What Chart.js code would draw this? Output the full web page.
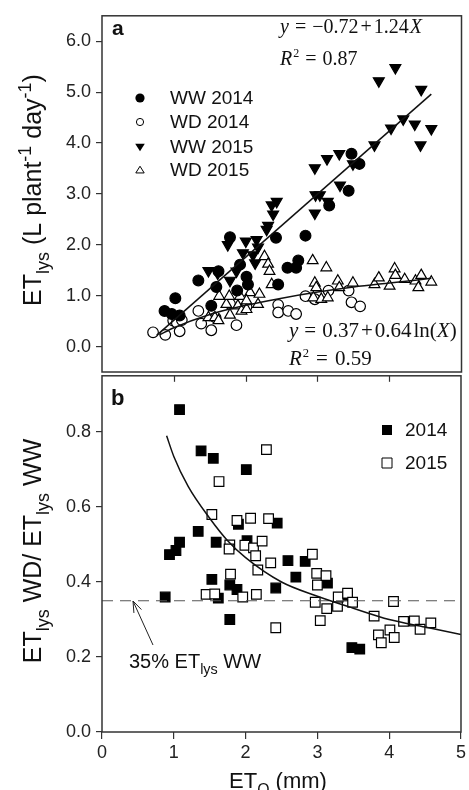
<!DOCTYPE html>
<html>
<head>
<meta charset="utf-8">
<script src="https://cdn.jsdelivr.net/npm/chart.js@4/dist/chart.umd.min.js"></script>
<style>
  html, body { margin: 0; padding: 0; background: #fff; }
  #wrap { position: relative; width: 469px; height: 790px; overflow: hidden; }
  canvas { position: absolute; left: 0; }
  #ca { top: 0; }
  #cb { top: 360px; }
</style>
</head>
<body>
<div id="wrap">
  <canvas id="ca" width="469" height="390"></canvas>
  <canvas id="cb" width="469" height="430"></canvas>
</div>
<script>
// ---- data ----
// panel a: ETlys vs ETo
const ww14X = [0.87,0.97,1.02,1.08,1.34,1.52,1.59,1.62,1.78,1.88,1.92,2.01,2.03,2.42,2.45,2.58,2.70,2.73,2.83,3.16,3.43,3.47,3.58];
const ww14Y = [0.70,0.64,0.95,0.61,1.30,0.80,1.17,1.48,2.15,1.10,1.61,1.37,1.22,2.14,1.22,1.55,1.55,1.69,2.18,2.77,3.06,3.79,3.59];
const wd14X = [0.71,0.88,0.99,1.04,1.08,1.11,1.34,1.38,1.52,1.58,1.78,1.87,2.01,2.45,2.45,2.59,2.70,2.83,2.96,3.15,3.43,3.47,3.59];
const wd14Y = [0.28,0.23,0.51,0.47,0.30,0.52,0.70,0.45,0.32,0.57,0.84,0.42,0.78,0.82,0.67,0.70,0.64,0.99,0.93,1.10,1.10,0.87,0.79];
const ww15X = [1.48,1.61,1.75,1.78,1.87,1.96,2.00,2.10,2.13,2.15,2.17,2.29,2.31,2.38,2.36,2.43,2.96,2.97,3.03,3.14,2.96,3.13,3.30,3.31,3.49,3.79,3.85,4.02,4.08,4.19,4.35,4.43,4.44,4.58];
const ww15Y = [1.49,1.44,2.00,1.30,1.48,1.84,2.07,1.80,1.64,2.10,1.95,2.30,2.38,2.60,2.78,2.85,2.62,2.98,2.98,2.85,3.51,3.69,3.79,3.17,3.59,3.96,5.22,4.29,5.48,4.47,4.37,3.96,5.05,4.28];
const wd15X = [1.48,1.57,1.62,1.63,1.73,1.77,1.78,1.89,1.92,1.94,2.01,2.06,2.01,2.17,2.19,2.26,2.31,2.33,2.36,2.93,3.12,2.96,2.98,2.94,3.05,3.14,3.28,3.30,3.49,3.79,3.85,4.00,4.07,4.08,4.21,4.36,4.44,4.40,4.58];
const wd15Y = [0.57,0.57,0.51,0.99,0.83,0.99,0.62,0.80,0.99,0.70,0.73,1.06,0.90,0.83,1.03,1.77,1.62,1.48,1.22,1.69,1.55,1.25,1.16,0.96,0.93,0.96,1.29,1.16,1.25,1.22,1.35,1.19,1.53,1.40,1.32,1.29,1.40,1.16,1.27];
// fitted lines, points
const linX = [0.76, 4.58];
const linY = [0.22, 4.96];
const logX = [0.8, 1.0, 1.5, 2.0, 2.5, 3.0, 3.5, 4.0, 4.58];
const logY = [0.23, 0.37, 0.63, 0.81, 0.95, 1.07, 1.17, 1.25, 1.34];

// panel b: ratio WD/WW
const r14X = [0.88,0.94,1.03,1.08,1.08,1.34,1.38,1.53,1.55,1.59,1.62,1.78,1.78,1.88,1.90,2.01,2.02,2.42,2.44,2.59,2.70,2.83,3.14,3.42,3.48,3.59];
const r14Y = [0.36,0.473,0.484,0.506,0.86,0.535,0.75,0.407,0.73,0.506,0.357,0.392,0.30,0.38,0.554,0.70,0.51,0.384,0.557,0.457,0.413,0.455,0.397,0.363,0.225,0.221];
const r15X = [1.45,1.57,1.53,1.63,1.79,1.78,1.77,1.88,1.96,1.99,2.07,2.11,2.14,2.15,2.17,2.23,2.29,2.32,2.35,2.42,2.93,2.97,2.99,3.00,3.04,3.12,3.13,3.28,3.29,3.42,3.49,3.79,3.85,3.89,4.01,4.06,4.07,4.20,4.35,4.43,4.58];
const r15Y = [0.367,0.368,0.58,0.668,0.421,0.499,0.488,0.564,0.36,0.498,0.57,0.491,0.47,0.367,0.432,0.509,0.753,0.569,0.451,0.278,0.474,0.346,0.423,0.392,0.297,0.417,0.329,0.335,0.36,0.37,0.346,0.309,0.259,0.238,0.272,0.348,0.252,0.295,0.296,0.274,0.291];
const powX = [0.9, 1.0, 1.2, 1.5, 1.75, 2.0, 2.5, 3.0, 3.5, 4.0, 4.5, 5.0];
const powY = [0.79, 0.735, 0.655, 0.57, 0.51, 0.465, 0.40, 0.362, 0.33, 0.30, 0.28, 0.26];
const refX = [0, 5];
const refY = [0.35, 0.35];

// tick labels
const aTicks = [0, 1, 2, 3, 4, 5, 6];
const bTicks = [0, 0.2, 0.4, 0.6, 0.8];
const xTicks = [0, 1, 2, 3, 4, 5];

// ---- drawing ----
const SANS = "'Liberation Sans', Arial, Helvetica, sans-serif";
const SERIF = "'Liberation Serif', 'Times New Roman', serif";
const OFFB = 360; // top of the second canvas on the page

Chart.defaults.font.family = SANS;
Chart.defaults.font.size = 18;
Chart.defaults.color = '#222';

const pts = (xs, ys) => xs.map((x, i) => ({ x, y: ys[i] }));

// draws a run of text pieces: [text, style, gapBefore]
function rich(ctx, x, y, parts, size, family, measureOnly) {
  let cx = x;
  parts.forEach(([t, s, gap]) => {
    let sz = size, dy = 0, st = '';
    if (s === 'sub') { sz = size * 0.72; dy = size * 0.3; }
    if (s === 'sup') { sz = size * 0.72; dy = -size * 0.42; }
    if (s === 'sup2') { sz = size * 0.6; dy = -size * 0.4; }
    if (s === 'i') st = 'italic ';
    if (s === 'b') st = 'bold ';
    ctx.font = st + sz + 'px ' + family;
    cx += gap || 0;
    if (!measureOnly) ctx.fillText(t, cx, y + dy);
    cx += ctx.measureText(t).width;
  });
  return cx - x;
}

function richCentered(ctx, cx, y, parts, size, family) {
  const w = rich(ctx, 0, 0, parts, size, family, true);
  rich(ctx, cx - w / 2, y, parts, size, family);
}

function yTitle(ctx, x, yc, parts, size) {
  ctx.save();
  ctx.translate(x, yc);
  ctx.rotate(-Math.PI / 2);
  richCentered(ctx, 0, 0, parts, size, SANS);
  ctx.restore();
}

function marker(ctx, kind, x, y, r) {
  ctx.save();
  ctx.lineWidth = 1;
  ctx.strokeStyle = '#000';
  ctx.fillStyle = '#000';
  ctx.beginPath();
  if (kind === 'dot' || kind === 'ring') {
    ctx.arc(x, y, r, 0, Math.PI * 2);
  } else if (kind === 'down') {
    ctx.moveTo(x - r, y - r * 0.7); ctx.lineTo(x + r, y - r * 0.7); ctx.lineTo(x, y + r * 0.9); ctx.closePath();
  } else if (kind === 'up') {
    ctx.moveTo(x - r, y + r * 0.7); ctx.lineTo(x + r, y + r * 0.7); ctx.lineTo(x, y - r * 0.9); ctx.closePath();
  } else {
    ctx.rect(x - r, y - r, 2 * r, 2 * r);
  }
  if (kind === 'dot' || kind === 'down' || kind === 'sq') {
    ctx.fill();
  } else {
    ctx.fillStyle = '#fff';
    ctx.fill();
    ctx.stroke();
  }
  ctx.restore();
}

function frame(chart) {
  const { ctx, chartArea: a } = chart;
  ctx.save();
  ctx.strokeStyle = '#333';
  ctx.lineWidth = 1.5;
  ctx.strokeRect(a.left, a.top, a.right - a.left, a.bottom - a.top);
  ctx.restore();
}

function yAxis(min, max, ticks, digits) {
  return {
    min, max,
    afterBuildTicks: s => { s.ticks = ticks.map(v => ({ value: v })); },
    afterFit: s => { s.width = 102; },
    ticks: { padding: 5, color: '#222', callback: v => Number(v).toFixed(digits) },
    grid: { drawOnChartArea: false, drawTicks: true, tickLength: 6, color: '#333', lineWidth: 1.2 },
    border: { display: false },
  };
}

const dotSet = (label, data, style, fill, r, rot) => ({
  label, data,
  pointStyle: style,
  pointRotation: rot || 0,
  pointRadius: r,
  pointHoverRadius: r,
  backgroundColor: fill,
  borderColor: '#000',
  borderWidth: 1.2,
});

const lineSet = (label, data, extra) => Object.assign({
  label, data,
  showLine: true,
  pointRadius: 0,
  borderColor: '#111',
  borderWidth: 1.5,
  fill: false,
}, extra || {});

// ---- panel a ----
const annotA = {
  id: 'annotA',
  afterDraw(chart) {
    const ctx = chart.ctx;
    frame(chart);
    ctx.save();
    ctx.fillStyle = '#111';
    ctx.textBaseline = 'alphabetic';
    rich(ctx, 112, 35, [['a', 'b']], 21, SANS);
    rich(ctx, 280, 33, [['y', 'i'], ['=', '', 6], ['\u22120.72', '', 6], ['+', '', 2], ['1.24', '', 2], ['X', 'i', 1]], 20, SERIF);
    rich(ctx, 280, 65, [['R', 'i'], ['2', 'sup2', 1], ['=', '', 6], ['0.87', '', 6]], 20, SERIF);
    rich(ctx, 289, 337, [['y', 'i'], ['=', '', 6], ['0.37', '', 6], ['+', '', 2], ['0.64', '', 2], ['ln(', '', 2], ['X', 'i'], [')', '']], 21, SERIF);
    rich(ctx, 289, 365, [['R', 'i'], ['2', 'sup2', 1], ['=', '', 7], ['0.59', '', 7]], 21, SERIF);

    const rows = [['dot', 'WW 2014', 4.6], ['ring', 'WD 2014', 3.6], ['down', 'WW 2015', 4.8], ['up', 'WD 2015', 4.2]];
    const rowY = [98, 122, 147, 170];
    rows.forEach(([k, t, r], i) => {
      marker(ctx, k, 140, rowY[i], r);
      ctx.font = '19px ' + SANS;
      ctx.textBaseline = 'middle';
      ctx.fillStyle = '#111';
      ctx.fillText(t, 170, rowY[i] + 1);
    });
    ctx.textBaseline = 'alphabetic';
    yTitle(ctx, 41, 190, [['ET', ''], ['lys', 'sub'], [' (L plant', ''], ['-1', 'sup'], [' day', ''], ['-1', 'sup'], [')', '']], 25);
    ctx.restore();
  }
};

new Chart(document.getElementById('ca'), {
  type: 'scatter',
  data: {
    datasets: [
      lineSet('fit WW', pts(linX, linY)),
      lineSet('fit WD', pts(logX, logY), { cubicInterpolationMode: 'monotone' }),
      dotSet('WW 2015', pts(ww15X, ww15Y), 'triangle', '#000', 6.3, 180),
      dotSet('WW 2014', pts(ww14X, ww14Y), 'circle', '#000', 5.4),
      dotSet('WD 2015', pts(wd15X, wd15Y), 'triangle', '#fff', 6.2),
      dotSet('WD 2014', pts(wd14X, wd14Y), 'circle', '#fff', 5.3),
    ]
  },
  options: {
    responsive: false,
    animation: false,
    layout: { padding: { top: 13, right: 7, bottom: 18, left: 0 } },
    plugins: { legend: { display: false }, tooltip: { enabled: false } },
    scales: {
      x: { type: 'linear', min: 0, max: 5, display: false },
      y: yAxis(-0.5, 6.5, aTicks, 1),
    }
  },
  plugins: [annotA]
});

// ---- panel b ----
const annotB = {
  id: 'annotB',
  afterDraw(chart) {
    const ctx = chart.ctx;
    const a = chart.chartArea;
    const xs = chart.scales.x;
    frame(chart);
    ctx.save();
    // inward ticks along the shared top edge
    ctx.strokeStyle = '#333';
    ctx.lineWidth = 1.2;
    xTicks.slice(1, -1).forEach(v => {
      const px = Math.round(xs.getPixelForValue(v)) + 0.5;
      ctx.beginPath(); ctx.moveTo(px, a.top); ctx.lineTo(px, a.top + 6); ctx.stroke();
    });
    ctx.fillStyle = '#111';
    ctx.textBaseline = 'alphabetic';
    rich(ctx, 111, 405 - OFFB, [['b', 'b']], 22, SANS);

    marker(ctx, 'sq', 387, 430 - OFFB, 5);
    marker(ctx, 'sqo', 387, 463 - OFFB, 5);
    ctx.font = '19px ' + SANS;
    ctx.textBaseline = 'middle';
    ctx.fillStyle = '#111';
    ctx.fillText('2014', 405, 431 - OFFB);
    ctx.fillText('2015', 405, 464 - OFFB);
    ctx.textBaseline = 'alphabetic';

    // arrow to the 35 % line
    const tx = 133, ty = 601 - OFFB, fx = 153, fy = 645 - OFFB;
    ctx.strokeStyle = '#222';
    ctx.lineWidth = 1;
    ctx.beginPath(); ctx.moveTo(fx, fy); ctx.lineTo(tx, ty); ctx.stroke();
    const ang = Math.atan2(fy - ty, fx - tx);
    [0.35, -0.35].forEach(d => {
      ctx.beginPath();
      ctx.moveTo(tx, ty);
      ctx.lineTo(tx + 12 * Math.cos(ang + d), ty + 12 * Math.sin(ang + d));
      ctx.stroke();
    });
    ctx.fillStyle = '#111';
    rich(ctx, 129, 668 - OFFB, [['35% ET', ''], ['lys', 'sub'], [' WW', '']], 20, SANS);

    yTitle(ctx, 41, 551 - OFFB, [['ET', ''], ['lys', 'sub'], [' WD/ ET', ''], ['lys', 'sub'], [' WW', '']], 25);
    richCentered(ctx, 278, 788 - OFFB, [['ET', ''], ['O', 'sub'], [' (mm)', '']], 22, SANS);
    ctx.restore();
  }
};

new Chart(document.getElementById('cb'), {
  type: 'scatter',
  data: {
    datasets: [
      lineSet('fit ratio', pts(powX, powY), { cubicInterpolationMode: 'monotone' }),
      lineSet('35% ETlys WW', pts(refX, refY), { borderColor: '#555', borderWidth: 1.2, borderDash: [11, 7] }),
      dotSet('2015', pts(r15X, r15Y), 'rect', '#fff', 6.8),
      dotSet('2014', pts(r14X, r14Y), 'rect', '#000', 6.8),
    ]
  },
  options: {
    responsive: false,
    animation: false,
    layout: { padding: { top: 12, right: 7, bottom: 0, left: 0 } },
    plugins: { legend: { display: false }, tooltip: { enabled: false } },
    scales: {
      x: {
        type: 'linear', min: 0, max: 5,
        afterBuildTicks: s => { s.ticks = xTicks.map(v => ({ value: v })); },
        afterFit: s => { s.height = 58; },
        ticks: { padding: 3, color: '#222', callback: v => String(v) },
        grid: { drawOnChartArea: false, drawTicks: true, tickLength: 7, color: '#333', lineWidth: 1.2 },
        border: { display: false },
      },
      y: yAxis(0, 0.95, bTicks, 1),
    }
  },
  plugins: [annotB]
});
</script>
</body>
</html>
